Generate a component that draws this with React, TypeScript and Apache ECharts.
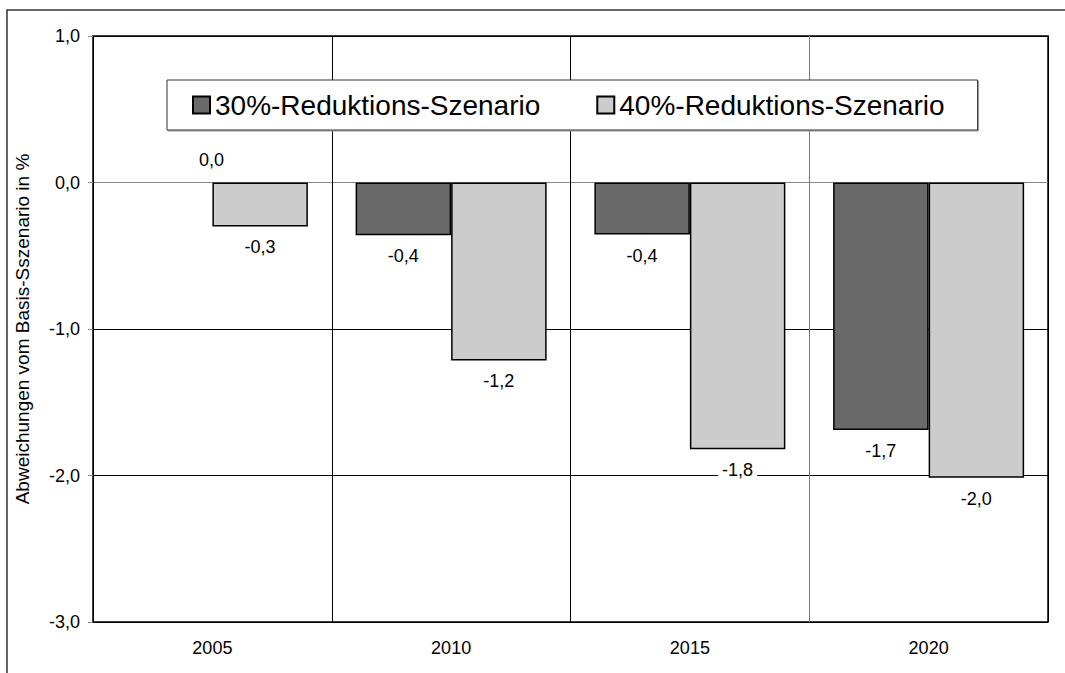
import React, { useEffect, useRef } from "react";
import * as echarts from "echarts";

const categories = ["2005", "2010", "2015", "2020"];
const series30Name = "30%-Reduktions-Szenario";
const series40Name = "40%-Reduktions-Szenario";
const values30 = [0, -0.36, -0.355, -1.69];
const values40 = [-0.3, -1.215, -1.82, -2.015];
const yTicks = { min: -3, max: 1, interval: 1 };
const yAxisTitle = "Abweichungen vom Basis-Sszenario in %";

const FONT = "Arial, 'Liberation Sans', Helvetica, sans-serif";

const fmt = (v: number) => (Math.round(v * 10) / 10).toFixed(1).replace(".", ",");

export default function App() {
  const ref = useRef<HTMLDivElement>(null);
  useEffect(() => {
    if (!ref.current) return;
    const chart = echarts.init(ref.current, undefined, { renderer: "svg" });
    const labelBase = {
      show: true,
      position: "bottom" as const,
      distance: 12,
      fontSize: 18,
      fontFamily: FONT,
      color: "#000",
      formatter: (p: any) => fmt(p.value),
    };
    chart.setOption({
      animation: false,
      backgroundColor: "#fff",
      textStyle: { fontFamily: FONT },
      graphic: [
        {
          type: "rect",
          z: 100,
          silent: true,
          shape: { x: 7, y: 10, width: 1080, height: 700 },
          style: { fill: "none", stroke: "#333", lineWidth: 1.5 },
        },
      ],
      grid: {
        left: 93,
        top: 36,
        right: 17,
        bottom: 51,
        show: true,
        borderColor: "#000",
        borderWidth: 1.5,
        backgroundColor: "transparent",
      },
      legend: {
        left: 167,
        top: 80,
        orient: "horizontal",
        padding: [11, 33, 11, 25],
        itemGap: 56,
        itemWidth: 17,
        itemHeight: 17,
        icon: "rect",
        backgroundColor: "#fff",
        borderColor: "#333",
        borderWidth: 1,
        shadowColor: "#999",
        shadowOffsetX: 1,
        shadowOffsetY: 1,
        shadowBlur: 0,
        textStyle: { fontSize: 28, fontFamily: FONT, color: "#000" },
        data: [series30Name, series40Name],
      },
      xAxis: {
        type: "category",
        data: categories,
        axisLine: { onZero: false, show: false },
        axisTick: { show: false },
        axisLabel: { fontSize: 18, color: "#000", margin: 17, fontFamily: FONT },
        splitLine: {
          show: true,
          interval: 0,
          lineStyle: { color: ["#000", "#000", "#000", "#777", "#000"], width: 1 },
        },
      },
      yAxis: {
        type: "value",
        min: yTicks.min,
        max: yTicks.max,
        interval: yTicks.interval,
        name: yAxisTitle,
        nameLocation: "middle",
        nameGap: 61,
        nameTextStyle: { fontSize: 19, color: "#000", fontFamily: FONT },
        axisLine: { show: false },
        axisTick: { show: true, length: 5, lineStyle: { color: "#888" } },
        axisLabel: {
          fontSize: 18,
          color: "#000",
          margin: 13,
          fontFamily: FONT,
          formatter: (v: number) => fmt(v),
        },
        splitLine: {
          show: true,
          lineStyle: { color: ["#000", "#000", "#000", "#888", "#000"], width: 1 },
        },
      },
      series: [
        {
          name: series30Name,
          type: "bar",
          barGap: "0%",
          barCategoryGap: "20%",
          itemStyle: { color: "#6a6a6a", borderColor: "#000", borderWidth: 1.5 },
          label: labelBase,
          data: values30.map((v) =>
            v === 0
              ? {
                  value: v,
                  itemStyle: { borderWidth: 0 },
                  label: { position: "top", offset: [47, 0], distance: 14 },
                }
              : { value: v }
          ),
        },
        {
          name: series40Name,
          type: "bar",
          barGap: "0%",
          barCategoryGap: "20%",
          itemStyle: { color: "#cccccc", borderColor: "#000", borderWidth: 1.5 },
          label: labelBase,
          data: values40.map((v, i) =>
            i === 2
              ? { value: v, label: { backgroundColor: "#fff", padding: [0, 4] } }
              : { value: v }
          ),
        },
      ],
    });
    return () => chart.dispose();
  }, []);
  return (
    <div
      ref={ref}
      style={{ position: "absolute", left: 0, top: 0, width: 1065, height: 673 }}
    />
  );
}
